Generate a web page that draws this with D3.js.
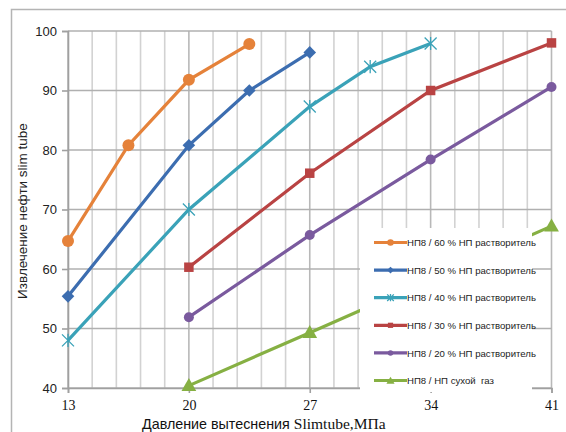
<!DOCTYPE html>
<html><head><meta charset="utf-8">
<script src="https://cdn.jsdelivr.net/npm/d3@7"></script>
<style>body{margin:0;background:#fff}svg{display:block}text{white-space:pre}</style>
</head><body>
<script>
const xTicks = [13, 20, 27, 34, 41];
const yTicks = [40, 50, 60, 70, 80, 90, 100];
const seriesNames = ["НП8 / 60 % НП растворитель","НП8 / 50 % НП растворитель","НП8 / 40 % НП растворитель","НП8 / 30 % НП растворитель","НП8 / 20 % НП растворитель","НП8 / НП сухой  газ"];
const x60 = [13, 16.5, 20, 23.5];      const y60 = [64.7, 80.8, 91.8, 97.8];
const x50 = [13, 20, 23.5, 27];        const y50 = [55.4, 80.8, 90.0, 96.4];
const x40 = [13, 20, 27, 30.5, 34];    const y40 = [48.0, 70.0, 87.3, 94.0, 97.9];
const x30 = [20, 27, 34, 41];          const y30 = [60.3, 76.1, 90.0, 98.0];
const x20 = [20, 27, 34, 41];          const y20 = [51.9, 65.7, 78.4, 90.6];
const xGas = [20, 27, 41];             const yGas = [40.4, 49.3, 67.2];
const colors = ["#E5823A","#3C6DB0","#3AA2B8","#B94343","#7A5A9E","#86B043"];
const markers = ["circle","diamond","star","square","circle2","triangle"];

const W = 566, H = 432;
const svg = d3.select("body").append("svg").attr("width", W).attr("height", H);
svg.append("rect").attr("x",11.5).attr("y",9.5).attr("width",620).attr("height",500)
  .attr("fill","none").attr("stroke","#b4b4b4").attr("stroke-width",1.5);

const x = d3.scaleLinear().domain([13, 41]).range([68, 551.5]);
const y = d3.scaleLinear().domain([40, 100]).range([388, 31]);

// grid
const g = svg.append("g");
const vminor = d3.range(0, 21).map(i => 13 + i * 1.4);
g.selectAll("line.vg").data(vminor).join("line")
  .attr("x1", d => x(d)).attr("x2", d => x(d)).attr("y1", y(100)).attr("y2", y(40))
  .attr("stroke", (d,i) => i % 5 === 0 ? "#b8b8b8" : "#d2d2d2").attr("stroke-width", 1.6);
g.selectAll("line.hg").data(yTicks).join("line")
  .attr("x1", x(13)).attr("x2", x(41)).attr("y1", d => y(d)).attr("y2", d => y(d))
  .attr("stroke", "#b0b0b0").attr("stroke-width", 1.6);

// axes
const yAxis = svg.append("g").attr("transform", `translate(${x(13)},0)`)
  .call(d3.axisLeft(y).tickValues(yTicks).tickSize(6).tickPadding(5));
yAxis.select(".domain").attr("stroke", "#a0a0a0").attr("stroke-width", 1.6);
yAxis.selectAll(".tick line").attr("stroke", "#a0a0a0").attr("stroke-width", 1.6);
yAxis.selectAll("text").attr("font-family", "Liberation Sans, Arial, sans-serif").attr("font-size", 13).attr("fill", "#222");

const xAxis = svg.append("g").attr("transform", `translate(0,${y(40)})`)
  .call(d3.axisBottom(x).tickValues(xTicks).tickSize(5).tickPadding(7));
xAxis.select(".domain").attr("stroke", "#a0a0a0").attr("stroke-width", 1.6);
xAxis.selectAll(".tick line").attr("stroke", "#a0a0a0").attr("stroke-width", 1.6);
xAxis.selectAll("text").attr("font-family", "Liberation Serif, Times New Roman, serif").attr("font-size", 14).attr("fill", "#111");

// series
const xs = [x60, x50, x40, x30, x20, xGas];
const ys = [y60, y50, y40, y30, y20, yGas];
const line = d3.line().x(d => x(d[0])).y(d => y(d[1]));

function drawMarker(sel, type, color, scale) {
  const s = scale || 1;
  if (type === "circle") sel.append("circle").attr("r", 6 * s).attr("fill", color);
  else if (type === "circle2") sel.append("circle").attr("r", 5 * s).attr("fill", color);
  else if (type === "diamond") { const r = 6.3 * s;
    sel.append("path").attr("d", `M0,${-r}L${r},0L0,${r}L${-r},0Z`).attr("fill", color); }
  else if (type === "square") sel.append("path").attr("d", d3.symbol(d3.symbolSquare, 90 * s * s)()).attr("fill", color);
  else if (type === "triangle") sel.append("path").attr("d", d3.symbol(d3.symbolTriangle, 95 * s * s)()).attr("fill", color).attr("transform","translate(0,1)");
  else if (type === "star") {
    const r = 6 * s;
    sel.append("path").attr("d", `M${-r},${-r}L${r},${r}M${-r},${r}L${r},${-r}M0,${-r*1.1}L0,${r*1.1}`)
      .attr("stroke", color).attr("stroke-width", 1.3).attr("fill", "none");
  }
}

xs.forEach((xa, i) => {
  const pts = xa.map((v, j) => [v, ys[i][j]]);
  const sg = svg.append("g");
  sg.append("path").datum(pts).attr("d", line).attr("fill", "none")
    .attr("stroke", colors[i]).attr("stroke-width", 3.2);
  pts.forEach(p => {
    const m = sg.append("g").attr("transform", `translate(${x(p[0])},${y(p[1])})`);
    drawMarker(m, markers[i], colors[i], 1);
  });
});

// legend
const lg = svg.append("g");
lg.append("rect").attr("x", 360).attr("y", 228).attr("width", 172).attr("height", 164).attr("fill", "#fff");
const ly0 = 242.5, ldy = 27.6;
seriesNames.forEach((name, i) => {
  const yy = ly0 + i * ldy;
  lg.append("line").attr("x1", 374).attr("x2", 407).attr("y1", yy).attr("y2", yy)
    .attr("stroke", colors[i]).attr("stroke-width", 3.2);
  const m = lg.append("g").attr("transform", `translate(390.5,${yy})`);
  drawMarker(m, markers[i], colors[i], 0.55);
  lg.append("text").attr("x", 407).attr("y", yy + 3.6).text(name)
    .attr("font-family", "Liberation Sans, Arial, sans-serif").attr("font-size", 9.6).attr("fill", "#222");
});

// titles
svg.append("text").attr("transform", "translate(27,211) rotate(-90)").attr("text-anchor", "middle")
  .attr("font-family", "Liberation Sans, Arial, sans-serif").attr("font-size", 13.5).attr("fill", "#222")
  .text("Извлечение нефти slim tube");
const xt = svg.append("text").attr("x", 142).attr("y", 429).attr("fill", "#111");
xt.append("tspan").attr("font-family", "Liberation Sans, Arial, sans-serif").attr("font-size", 14.3).text("Давление вытеснения ");
xt.append("tspan").attr("font-family", "Liberation Serif, Times New Roman, serif").attr("font-size", 15.5).text("Slimtube,МПа");
</script>
</body></html>
